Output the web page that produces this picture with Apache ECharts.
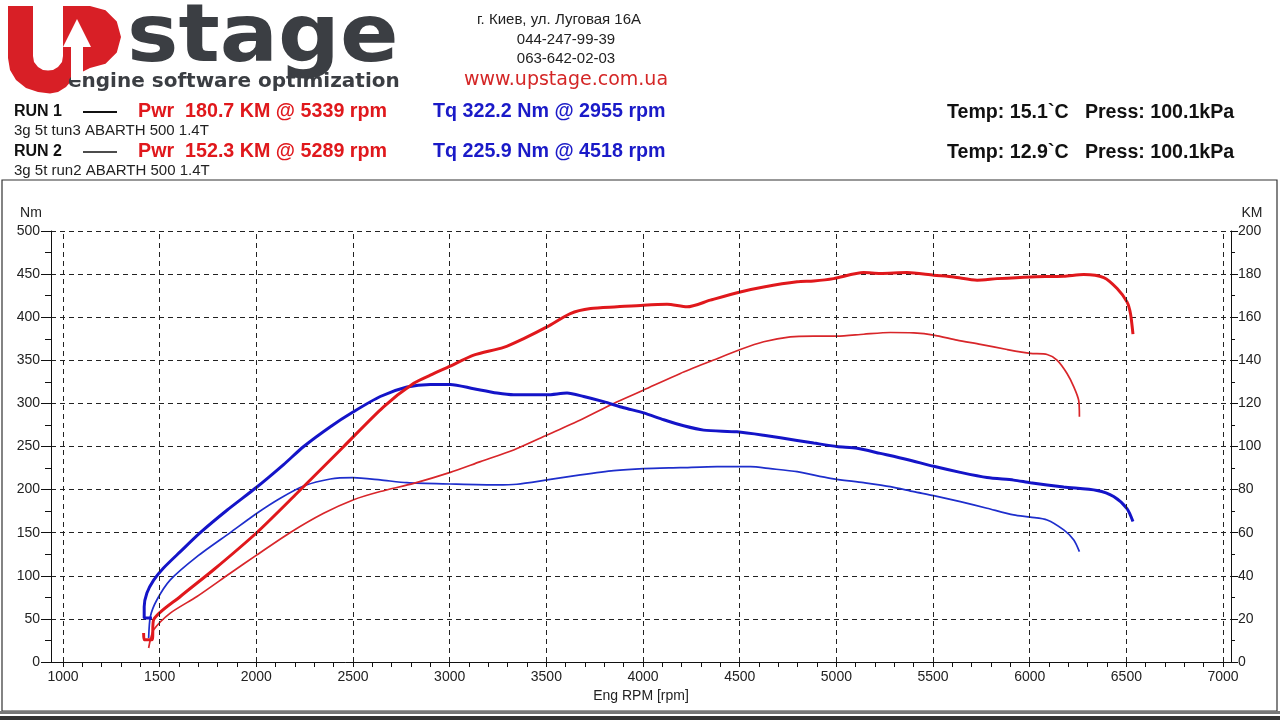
<!DOCTYPE html>
<html><head><meta charset="utf-8">
<script src="https://cdn.jsdelivr.net/npm/echarts@6/dist/echarts.min.js"></script>
<style>html,body{margin:0;padding:0;background:#fff}#c{width:1280px;height:720px}</style>
</head><body><div id="c"></div><script>
// ---- data ----
const xTickLabels = [1000,1500,2000,2500,3000,3500,4000,4500,5000,5500,6000,6500,7000];
const xMinorTicks = [];
for (let v = 1000; v <= 7000; v += 100) xMinorTicks.push(v);

const run1TorqueRpm = [1460,1420,1420,1434,1469,1520,1607,1710,1848,2003,2141,2245,2383,2500,2641,2779,2900,3003,3124,3245,3331,3503,3607,3693,3796,3900,4003,4107,4210,4314,4486,4624,4797,4883,5003,5107,5227,5365,5503,5641,5779,5917,6003,6176,6348,6434,6503,6534];
const run1TorqueNm  = [51,51,64,80,95,109,128,150,176,203,229,250,273,290,308,319,322,322,317,312,310,310,312,308,302,295,289,281,274,269,267,263,257,254,250,248,242,235,227,220,214,211,208,203,199,192,178,163];

const run1PowerRpm = [1417,1420,1460,1469,1607,1779,2003,2210,2451,2658,2814,2900,3003,3124,3279,3383,3503,3624,3729,3866,4003,4124,4228,4348,4503,4624,4797,4883,4986,5141,5227,5365,5503,5607,5728,5831,6003,6176,6279,6383,6452,6503,6521,6534];
const run1PowerKM  = [13.4,10.3,10.3,19.6,30.4,42.8,60.1,78.3,99.9,118.4,129.3,133.1,137.3,142.4,146,150.1,155.5,161.7,164,164.8,165.6,166,164.8,167.9,171.7,174,176.4,176.8,177.9,180.7,180.3,180.7,179.5,178.7,177.2,177.9,178.7,179,179.8,178.4,173.3,167.1,161.7,152.1];

const run2TorqueRpm = [1443,1452,1486,1555,1693,1865,2003,2124,2245,2383,2500,2641,2779,3003,3245,3348,3503,3676,3848,4003,4193,4383,4555,4659,4797,4969,5141,5279,5400,5503,5641,5779,5917,6003,6090,6176,6228,6257];
const run2TorqueNm  = [27.8,52.8,72.2,95.3,122.3,150.1,172.6,190,204.2,212.3,213.8,211.2,208,206.5,205.4,206.2,211.2,217,222,224.3,225.4,226.6,226.6,224.3,220.8,213.1,208,203.4,197.6,193,186,178.4,170.6,168,164.8,153.2,141.6,128.1];

const run2PowerRpm = [1443,1452,1469,1555,1693,1865,2003,2176,2348,2500,2641,2814,3003,3159,3331,3503,3676,3848,4003,4193,4365,4503,4624,4762,4883,5003,5141,5279,5400,5503,5624,5745,5883,6003,6090,6141,6193,6228,6253,6257];
const run2PowerKM  = [6.5,10.3,15,22.7,30.4,41.2,49.7,60.1,69,75.2,79.1,82.9,88,93,98.4,105.3,112.3,120,126.2,133.9,140.1,145,148.6,150.9,151.2,151.2,152.1,152.9,152.7,151.7,149.4,147.4,145,143.2,142.7,140.1,133.9,127.7,121.5,113.8];

// ---- chart ----
const zip = (a, b) => a.map((v, i) => [v, b[i]]);
const SANS = '"Liberation Sans", Arial, sans-serif';
const DJ = '"DejaVu Sans", sans-serif';
const RED = '#e0181c', RED2 = '#d8262a', BLUE = '#1414c8', BLUE2 = '#1e2ecc';
const dash = [5, 4];

function txt(x, y, text, font, fill, align, extra) {
  return Object.assign({ type: 'text', x: x, y: y, z: 10,
    style: { text: text, font: font, fill: fill || '#111', textAlign: align || 'left', textVerticalAlign: 'middle' } }, extra || {});
}

const logoU = [[8,6],[33,6],[33,56],[34,62],[38,67],[43,70],[48,70.5],[53,70],[58,67],[62,62],[63,56],[63,6],[90,6],
  [105.5,10.2],[116.8,21.5],[121,37],[116.8,52.5],[105.5,63.8],[90,68],
  [80,73],[72,80],[66,87],[58,92],[50,93.5],[38,92],[26,88],[16,80],[10,70],[8,58]];
const logoArrow = [[77,19],[91,47],[83,47],[83,80],[71,80],[71,47],[63,47]];

const chart = echarts.init(document.getElementById('c'), null, { renderer: 'canvas' });
chart.setOption({
  backgroundColor: '#ffffff',
  animation: false,
  grid: { left: 51, right: 49, top: 231, bottom: 58, containLabel: false },
  xAxis: {
    type: 'value', min: 938, max: 7041,
    axisLine: { show: true, lineStyle: { color: '#111', width: 1 } },
    axisTick: { show: true, customValues: xMinorTicks, length: 5, lineStyle: { color: '#111' } },
    axisLabel: { customValues: xTickLabels, formatter: v => String(v), fontFamily: SANS, fontSize: 14, color: '#222', margin: 8 },
    splitLine: { show: false },
    name: 'Eng RPM [rpm]', nameLocation: 'middle', nameGap: 27,
    nameTextStyle: { fontFamily: SANS, fontSize: 14, color: '#222' }
  },
  yAxis: [
    { type: 'value', min: 0, max: 500, interval: 50, position: 'left',
      axisLine: { show: true, lineStyle: { color: '#111' } },
      axisTick: { show: true, length: 10, lineStyle: { color: '#111' } },
      minorTick: { show: true, splitNumber: 2, length: 6, lineStyle: { color: '#111' } },
      axisLabel: { fontFamily: SANS, fontSize: 14, color: '#222', margin: 11 },
      splitLine: { show: true, lineStyle: { type: dash, color: '#222', width: 1 } } },
    { type: 'value', min: 0, max: 200, interval: 20, position: 'right',
      axisLine: { show: true, lineStyle: { color: '#111' } },
      axisTick: { show: true, length: 7, lineStyle: { color: '#111' } },
      minorTick: { show: true, splitNumber: 2, length: 4, lineStyle: { color: '#111' } },
      axisLabel: { fontFamily: SANS, fontSize: 14, color: '#222', margin: 7 },
      splitLine: { show: false } }
  ],
  series: [
    { type: 'line', name: 'grid', data: [], z: 1, silent: true,
      markLine: { silent: true, symbol: ['none', 'none'], label: { show: false },
        lineStyle: { type: dash, color: '#222', width: 1 },
        data: xTickLabels.map(v => ({ xAxis: v })) } },
    { type: 'line', name: 'RUN 2 Tq', data: zip(run2TorqueRpm, run2TorqueNm), yAxisIndex: 0,
      showSymbol: false, smooth: 0.25, z: 3, lineStyle: { color: BLUE2, width: 1.7 } },
    { type: 'line', name: 'RUN 2 Pwr', data: zip(run2PowerRpm, run2PowerKM), yAxisIndex: 1,
      showSymbol: false, smooth: 0.25, z: 3, lineStyle: { color: RED2, width: 1.7 } },
    { type: 'line', name: 'RUN 1 Tq', data: zip(run1TorqueRpm, run1TorqueNm), yAxisIndex: 0,
      showSymbol: false, smooth: 0.25, z: 4, lineStyle: { color: BLUE, width: 3 } },
    { type: 'line', name: 'RUN 1 Pwr', data: zip(run1PowerRpm, run1PowerKM), yAxisIndex: 1,
      showSymbol: false, smooth: 0.25, z: 4, lineStyle: { color: RED, width: 3 } }
  ],
  graphic: [
    // frame
    { type: 'rect', shape: { x: 2, y: 180, width: 1275, height: 531 }, z: 0,
      style: { fill: 'none', stroke: '#333', lineWidth: 1.2 } },
    { type: 'rect', shape: { x: 0, y: 711, width: 1280, height: 3 }, style: { fill: '#777' } },
    { type: 'rect', shape: { x: 0, y: 716, width: 1280, height: 4 }, style: { fill: '#333' } },
    // logo
    { type: 'polygon', z: 10, shape: { points: logoU }, style: { fill: '#d81f26' } },
    { type: 'polygon', z: 11, shape: { points: logoArrow }, style: { fill: '#ffffff' } },
    txt(127, 40, 'stage', 'bold 80px ' + DJ, '#3b3e43', 'left', { scaleX: 1.08 }),
    txt(68, 82, 'engine software optimization', 'bold 20px ' + DJ, '#3b3e43'),
    // address
    txt(559, 20, 'г. Киев, ул. Луговая 16А', '15px ' + SANS, '#222', 'center'),
    txt(566, 40, '044-247-99-39', '15px ' + SANS, '#222', 'center'),
    txt(566, 59, '063-642-02-03', '15px ' + SANS, '#222', 'center'),
    txt(566, 80, 'www.upstage.com.ua', '19px ' + DJ, '#d42626', 'center'),
    // runs
    txt(14, 112, 'RUN 1', 'bold 16px ' + SANS, '#111'),
    { type: 'line', shape: { x1: 83, y1: 112, x2: 117, y2: 112 }, style: { stroke: '#111', lineWidth: 2 } },
    txt(138, 112, 'Pwr  180.7 KM @ 5339 rpm', 'bold 19.7px ' + SANS, '#e0181c'),
    txt(433, 112, 'Tq 322.2 Nm @ 2955 rpm', 'bold 19.7px ' + SANS, '#1a1ac8'),
    txt(14, 131, '3g 5t tun3 ABARTH 500 1.4T', '15px ' + SANS, '#222'),
    txt(14, 152, 'RUN 2', 'bold 16px ' + SANS, '#111'),
    { type: 'line', shape: { x1: 83, y1: 152, x2: 117, y2: 152 }, style: { stroke: '#111', lineWidth: 1.5 } },
    txt(138, 152, 'Pwr  152.3 KM @ 5289 rpm', 'bold 19.7px ' + SANS, '#e0181c'),
    txt(433, 152, 'Tq 225.9 Nm @ 4518 rpm', 'bold 19.7px ' + SANS, '#1a1ac8'),
    txt(14, 171, '3g 5t run2 ABARTH 500 1.4T', '15px ' + SANS, '#222'),
    txt(947, 113, 'Temp: 15.1`C   Press: 100.1kPa', 'bold 19.6px ' + SANS, '#111'),
    txt(947, 153, 'Temp: 12.9`C   Press: 100.1kPa', 'bold 19.6px ' + SANS, '#111'),
    // axis units
    txt(31, 213, 'Nm', '14px ' + SANS, '#222', 'center'),
    txt(1252, 213, 'KM', '14px ' + SANS, '#222', 'center')
  ]
});
</script></body></html>
